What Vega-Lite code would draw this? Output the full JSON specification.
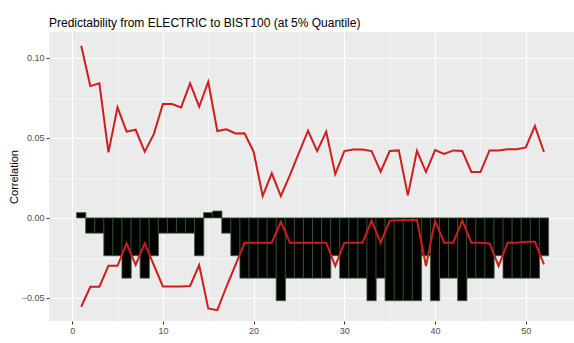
{
  "$schema": "https://vega.github.io/schema/vega-lite/v6.json",
  "autosize": {"type": "none"},
  "padding": {"left": 49, "top": 32, "right": 0, "bottom": 22},
  "width": 525,
  "height": 289,
  "background": "white",
  "title": {
    "text": "Predictability from ELECTRIC to BIST100 (at 5% Quantile)",
    "anchor": "start",
    "frame": "group",
    "font": "Liberation Sans",
    "fontSize": 12,
    "fontWeight": "normal",
    "color": "#000000",
    "baseline": "alphabetic",
    "offset": 9,
    "dy": 16
  },
  "config": {
    "view": {"fill": "#EBEBEB", "stroke": null},
    "axis": {
      "domain": false,
      "gridColor": "#FFFFFF",
      "labelFont": "Liberation Sans",
      "labelFontSize": 9,
      "labelColor": "#4D4D4D",
      "tickColor": "#333333",
      "tickSize": 3,
      "labelPadding": 2,
      "titleFont": "Liberation Sans",
      "titleFontWeight": "normal",
      "titleColor": "#000000",
      "titleFontSize": 11
    }
  },
  "data": {
    "values": [
      {"lag": 1, "bar": 0.0033, "upper": 0.1076, "lower": -0.0555},
      {"lag": 2, "bar": -0.0095, "upper": 0.0824, "lower": -0.043},
      {"lag": 3, "bar": -0.0095, "upper": 0.0841, "lower": -0.043},
      {"lag": 4, "bar": -0.0236, "upper": 0.041, "lower": -0.0299},
      {"lag": 5, "bar": -0.0236, "upper": 0.0691, "lower": -0.0299},
      {"lag": 6, "bar": -0.0376, "upper": 0.0539, "lower": -0.0159},
      {"lag": 7, "bar": -0.0236, "upper": 0.0551, "lower": -0.0294},
      {"lag": 8, "bar": -0.0376, "upper": 0.0414, "lower": -0.0159},
      {"lag": 9, "bar": -0.0236, "upper": 0.0524, "lower": -0.0294},
      {"lag": 10, "bar": -0.0095, "upper": 0.0712, "lower": -0.0428},
      {"lag": 11, "bar": -0.0095, "upper": 0.0712, "lower": -0.0428},
      {"lag": 12, "bar": -0.0095, "upper": 0.069, "lower": -0.0428},
      {"lag": 13, "bar": -0.0095, "upper": 0.0841, "lower": -0.0425},
      {"lag": 14, "bar": -0.0236, "upper": 0.0695, "lower": -0.0294},
      {"lag": 15, "bar": 0.0033, "upper": 0.0851, "lower": -0.0565},
      {"lag": 16, "bar": 0.0043, "upper": 0.0543, "lower": -0.0576},
      {"lag": 17, "bar": -0.0095, "upper": 0.0554, "lower": -0.043},
      {"lag": 18, "bar": -0.0236, "upper": 0.0528, "lower": -0.0294},
      {"lag": 19, "bar": -0.0376, "upper": 0.0529, "lower": -0.0155},
      {"lag": 20, "bar": -0.0376, "upper": 0.0414, "lower": -0.0155},
      {"lag": 21, "bar": -0.0376, "upper": 0.0137, "lower": -0.0155},
      {"lag": 22, "bar": -0.0376, "upper": 0.0279, "lower": -0.0155},
      {"lag": 23, "bar": -0.0517, "upper": 0.0137, "lower": -0.0024},
      {"lag": 24, "bar": -0.0376, "upper": 0.0268, "lower": -0.0155},
      {"lag": 25, "bar": -0.0376, "upper": 0.0408, "lower": -0.0155},
      {"lag": 26, "bar": -0.0376, "upper": 0.0545, "lower": -0.0155},
      {"lag": 27, "bar": -0.0376, "upper": 0.0418, "lower": -0.0155},
      {"lag": 28, "bar": -0.0376, "upper": 0.0539, "lower": -0.0155},
      {"lag": 29, "bar": -0.0236, "upper": 0.0274, "lower": -0.030},
      {"lag": 30, "bar": -0.0376, "upper": 0.0418, "lower": -0.0155},
      {"lag": 31, "bar": -0.0376, "upper": 0.0428, "lower": -0.0155},
      {"lag": 32, "bar": -0.0376, "upper": 0.0428, "lower": -0.0155},
      {"lag": 33, "bar": -0.0517, "upper": 0.0418, "lower": -0.0017},
      {"lag": 34, "bar": -0.0376, "upper": 0.0289, "lower": -0.0155},
      {"lag": 35, "bar": -0.0517, "upper": 0.0418, "lower": -0.0017},
      {"lag": 36, "bar": -0.0517, "upper": 0.0422, "lower": -0.0015},
      {"lag": 37, "bar": -0.0517, "upper": 0.0141, "lower": -0.0015},
      {"lag": 38, "bar": -0.0517, "upper": 0.042, "lower": -0.0013},
      {"lag": 39, "bar": -0.0236, "upper": 0.0287, "lower": -0.030},
      {"lag": 40, "bar": -0.0517, "upper": 0.0424, "lower": -0.0017},
      {"lag": 41, "bar": -0.0376, "upper": 0.040, "lower": -0.0155},
      {"lag": 42, "bar": -0.0376, "upper": 0.0422, "lower": -0.0155},
      {"lag": 43, "bar": -0.0517, "upper": 0.0418, "lower": -0.0017},
      {"lag": 44, "bar": -0.0376, "upper": 0.0287, "lower": -0.0155},
      {"lag": 45, "bar": -0.0376, "upper": 0.0287, "lower": -0.0155},
      {"lag": 46, "bar": -0.0376, "upper": 0.0422, "lower": -0.0159},
      {"lag": 47, "bar": -0.0236, "upper": 0.0422, "lower": -0.030},
      {"lag": 48, "bar": -0.0376, "upper": 0.043, "lower": -0.0155},
      {"lag": 49, "bar": -0.0376, "upper": 0.043, "lower": -0.0155},
      {"lag": 50, "bar": -0.0376, "upper": 0.0441, "lower": -0.0149},
      {"lag": 51, "bar": -0.0376, "upper": 0.0574, "lower": -0.0149},
      {"lag": 52, "bar": -0.0236, "upper": 0.0412, "lower": -0.029}
    ]
  },
  "encoding": {
    "x": {
      "field": "lag",
      "type": "quantitative",
      "scale": {"domain": [-2, 54.76], "nice": false, "zero": false},
      "axis": {
        "title": null,
        "values": [0, 5, 10, 15, 20, 25, 30, 35, 40, 45, 50],
        "labelExpr": "datum.value % 10 === 0 ? datum.label : ''",
        "gridWidth": {"condition": {"test": "datum.value % 10 === 0", "value": 1.1}, "value": 0.5},
        "tickOpacity": {"condition": {"test": "datum.value % 10 === 0", "value": 1}, "value": 0}
      }
    }
  },
  "layer": [
    {
      "mark": {"type": "bar", "width": 9.25, "fill": "#000000", "stroke": "#2E5E2E", "strokeWidth": 0.8},
      "encoding": {
        "y": {
          "field": "bar",
          "type": "quantitative",
          "scale": {"domain": [-0.0644, 0.1162], "nice": false, "zero": false},
          "axis": {
            "title": "Correlation",
            "titlePadding": 2,
            "values": [-0.05, -0.025, 0, 0.025, 0.05, 0.075, 0.1],
            "format": ".2f",
            "labelExpr": "abs(round(datum.value * 1000) % 50) === 0 ? datum.label : ''",
            "gridWidth": {"condition": {"test": "abs(round(datum.value * 1000) % 50) === 0", "value": 1.1}, "value": 0.5},
            "tickOpacity": {"condition": {"test": "abs(round(datum.value * 1000) % 50) === 0", "value": 1}, "value": 0}
          }
        }
      }
    },
    {
      "mark": {"type": "line", "color": "#CF1D1D", "strokeWidth": 2},
      "encoding": {"y": {"field": "upper", "type": "quantitative"}}
    },
    {
      "mark": {"type": "line", "color": "#CF1D1D", "strokeWidth": 2},
      "encoding": {"y": {"field": "lower", "type": "quantitative"}}
    }
  ]
}
